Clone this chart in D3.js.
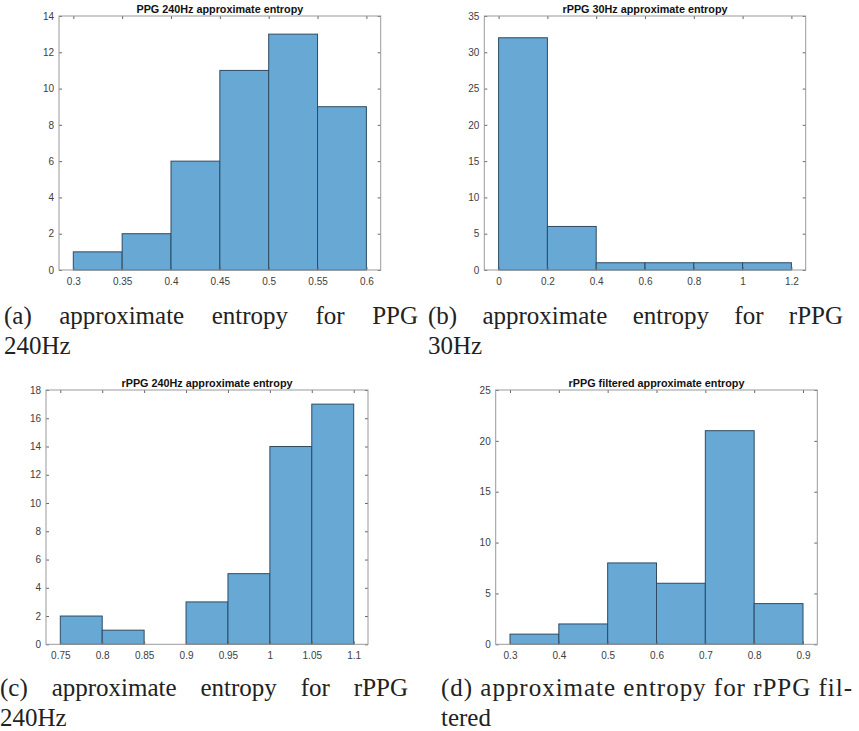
<html>
<head>
<meta charset="utf-8">
<script src="https://d3js.org/d3.v7.min.js"></script>
</head>
<body style="margin:0; background-color:#FFFFFF">
<div id="fig"></div>

<script>

// histogram data, one set per panel
var edgesA = [0.3, 0.35, 0.4, 0.45, 0.5, 0.55, 0.6];
var countsA = [1, 2, 6, 11, 13, 9];
var yTicksA = [0, 2, 4, 6, 8, 10, 12, 14];

var edgesB = [0, 0.2, 0.4, 0.6, 0.8, 1, 1.2];
var countsB = [32, 6, 1, 1, 1, 1];
var yTicksB = [0, 5, 10, 15, 20, 25, 30, 35];

var edgesC = [0.75, 0.8, 0.85, 0.9, 0.95, 1, 1.05, 1.1];
var countsC = [2, 1, 0, 3, 5, 14, 17];
var yTicksC = [0, 2, 4, 6, 8, 10, 12, 14, 16, 18];

var edgesD = [0.3, 0.4, 0.5, 0.6, 0.7, 0.8, 0.9];
var countsD = [1, 2, 8, 6, 21, 4];
var yTicksD = [0, 5, 10, 15, 20, 25];

var titles = ["PPG 240Hz approximate entropy", "rPPG 30Hz approximate entropy",
              "rPPG 240Hz approximate entropy", "rPPG filtered approximate entropy"];

var captionFirst = [
  ["(a)", "approximate", "entropy", "for", "PPG"],
  ["(b)", "approximate", "entropy", "for", "rPPG"],
  ["(c)", "approximate", "entropy", "for", "rPPG"],
  ["(d) approximate entropy for rPPG fil-"]
];
var captionSecond = ["240Hz", "30Hz", "240Hz", "tered"];

// where each axes box sits on the page
var boxes = [
  {left: 59,    right: 380.7, top: 16,  bottom: 270,   capX0: 4,   capX1: 418, capY: 324},
  {left: 484.3, right: 805.7, top: 16,  bottom: 270,   capX0: 428, capX1: 843, capY: 324},
  {left: 46,    right: 368,   top: 390, bottom: 644.3, capX0: 0,   capX1: 408, capY: 696},
  {left: 495.7, right: 817.3, top: 390, bottom: 644.3, capX0: 441, capX1: 852, capY: 696}
];
var pad = 14.3;

var panels = [
  {edges: edgesA, counts: countsA, yTicks: yTicksA},
  {edges: edgesB, counts: countsB, yTicks: yTicksB},
  {edges: edgesC, counts: countsC, yTicks: yTicksC},
  {edges: edgesD, counts: countsD, yTicks: yTicksD}
];

var svg = d3.select("#fig")
  .append("svg")
    .attr("width", 859)
    .attr("height", 731)
    .style("display", "block");

svg.append("rect")
  .attr("width", 859).attr("height", 731)
  .attr("fill", "#FFFFFF");

var tickFont = "'Liberation Sans', Arial, Helvetica, sans-serif";

panels.forEach(function(p, i) {
  var b = boxes[i];
  var g = svg.append("g");

  var x = d3.scaleLinear()
    .domain([p.edges[0], p.edges[p.edges.length - 1]])
    .range([b.left + pad, b.right - pad]);
  var y = d3.scaleLinear()
    .domain([0, p.yTicks[p.yTicks.length - 1]])
    .range([b.bottom, b.top]);

  // bars
  var bins = p.counts.map(function(c, k) { return {x0: p.edges[k], x1: p.edges[k + 1], n: c}; })
    .filter(function(d) { return d.n > 0; });
  g.selectAll("mybar")
    .data(bins)
    .enter()
    .append("rect")
      .attr("x", function(d) { return x(d.x0); })
      .attr("y", function(d) { return y(d.n); })
      .attr("width", function(d) { return x(d.x1) - x(d.x0); })
      .attr("height", function(d) { return y(0) - y(d.n); })
      .style("fill", "#68A8D5")
      .attr("stroke", "#2E4B62")
      .attr("stroke-width", 1);

  // axes, ticks pointing inwards on all four sides
  var bottomAx = g.append("g")
    .attr("transform", "translate(0," + b.bottom + ")")
    .call(d3.axisBottom(x).tickValues(p.edges).tickFormat(function(d) { return String(d); })
      .tickSizeInner(-3).tickSizeOuter(0).tickPadding(8));
  var leftAx = g.append("g")
    .attr("transform", "translate(" + b.left + ",0)")
    .call(d3.axisLeft(y).tickValues(p.yTicks).tickFormat(function(d) { return String(d); })
      .tickSizeInner(-3).tickSizeOuter(0).tickPadding(5));
  var topAx = g.append("g")
    .attr("transform", "translate(0," + b.top + ")")
    .call(d3.axisTop(x).tickValues(p.edges).tickFormat("").tickSizeInner(-3).tickSizeOuter(0));
  var rightAx = g.append("g")
    .attr("transform", "translate(" + b.right + ",0)")
    .call(d3.axisRight(y).tickValues(p.yTicks).tickFormat("").tickSizeInner(-3).tickSizeOuter(0));

  [bottomAx, leftAx, topAx, rightAx].forEach(function(ax) {
    ax.select(".domain").remove();
    ax.selectAll("line").attr("stroke", "#666");
    ax.selectAll("text")
      .style("font-family", tickFont)
      .style("font-size", "10px")
      .attr("fill", "#404040");
  });

  // axes box
  g.append("rect")
    .attr("x", b.left).attr("y", b.top)
    .attr("width", b.right - b.left).attr("height", b.bottom - b.top)
    .attr("fill", "none")
    .attr("stroke", "#9A9A9A")
    .attr("stroke-width", 1);

  g.append("text")
    .attr("x", (b.left + b.right) / 2)
    .attr("y", b.top - 3)
    .attr("text-anchor", "middle")
    .style("font-family", tickFont)
    .style("font-weight", "bold")
    .style("font-size", "10.8px")
    .attr("fill", "#111")
    .text(titles[i]);

  // caption below, first line justified
  var capFont = "'Liberation Serif', 'Times New Roman', serif";
  var words = captionFirst[i];
  if (words.length == 1) {
    svg.append("text")
      .attr("x", b.capX0).attr("y", b.capY)
      .attr("textLength", b.capX1 - b.capX0)
      .attr("lengthAdjust", "spacing")
      .style("font-family", capFont).style("font-size", "25px")
      .attr("fill", "#222")
      .text(words[0]);
  } else {
    var nodes = words.map(function(w) {
      return svg.append("text")
        .attr("y", b.capY)
        .style("font-family", capFont).style("font-size", "25px")
        .attr("fill", "#222")
        .text(w);
    });
    var widths = nodes.map(function(n) { return n.node().getComputedTextLength(); });
    var gap = (b.capX1 - b.capX0 - d3.sum(widths)) / (words.length - 1);
    var cx = b.capX0;
    nodes.forEach(function(n, k) {
      n.attr("x", cx);
      cx += widths[k] + gap;
    });
  }
  svg.append("text")
    .attr("x", b.capX0).attr("y", b.capY + 30)
    .style("font-family", capFont).style("font-size", "25px")
    .attr("fill", "#222")
    .text(captionSecond[i]);
});

</script>
</body>
</html>
